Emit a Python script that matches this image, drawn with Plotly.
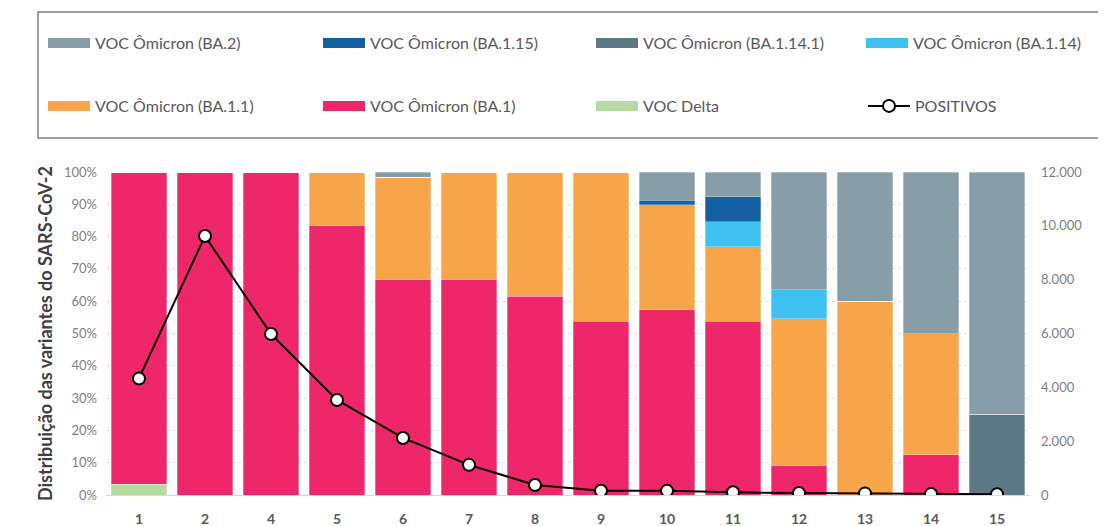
import plotly.graph_objects as go

weeks = ["1", "2", "4", "5", "6", "7", "8", "9", "10", "11", "12", "13", "14", "15"]

delta =     [3.3, 0, 0, 0, 0, 0, 0, 0, 0, 0, 0, 0, 0, 0]
ba1 =       [96.7, 100, 100, 83.3, 66.7, 66.7, 61.5, 53.8, 57.4, 53.8, 9.1, 0, 12.5, 0]
ba1_1 =     [0, 0, 0, 16.7, 31.6, 33.3, 38.5, 46.2, 32.4, 23.1, 45.4, 60, 37.5, 0]
ba1_14 =    [0, 0, 0, 0, 0, 0, 0, 0, 0, 7.7, 9.1, 0, 0, 0]
ba1_14_1 =  [0, 0, 0, 0, 0, 0, 0, 0, 0, 0, 0, 0, 0, 25]
ba1_15 =    [0, 0, 0, 0, 0, 0, 0, 0, 1.5, 7.7, 0, 0, 0, 0]
ba2 =       [0, 0, 0, 0, 1.7, 0, 0, 0, 8.7, 7.7, 36.4, 40, 50, 75]
positivos = [4330, 9620, 5980, 3530, 2120, 1120, 370, 160, 160, 100, 70, 60, 40, 30]

FONT = "Lato"
OFF = 8  # page body margin
W, H = 1106 - OFF, 526 - OFF
L, T = 106 - OFF, 172 - OFF
R = W - (1030 - OFF)
B = H - (495 - OFF)
pw, ph = W - L - R, H - T - B

def px(sx):
    return (sx - OFF - L) / pw

def py(sy):
    return (H - B - (sy - OFF)) / ph

# legend slot (screen x of text start, screen y of row)
slots = {
    "VOC Ômicron (BA.2)": (96, 43), "VOC Ômicron (BA.1.15)": (371, 43),
    "VOC Ômicron (BA.1.14.1)": (644, 43), "VOC Ômicron (BA.1.14)": (914, 43),
    "VOC Ômicron (BA.1.1)": (96, 106), "VOC Ômicron (BA.1)": (371, 106),
    "VOC Delta": (644, 106), "POSITIVOS": (916, 106),
}
order = list(slots.keys())

def legend_id(name):
    return f"legend{order.index(name) + 2}"

fig = go.Figure()

series = [
    ("VOC Delta", delta, "#B5DBA2"),
    ("VOC Ômicron (BA.1)", ba1, "#EE276A"),
    ("VOC Ômicron (BA.1.1)", ba1_1, "#F8A54A"),
    ("VOC Ômicron (BA.1.14)", ba1_14, "#3EC1F0"),
    ("VOC Ômicron (BA.1.14.1)", ba1_14_1, "#5D7985"),
    ("VOC Ômicron (BA.1.15)", ba1_15, "#1560A0"),
    ("VOC Ômicron (BA.2)", ba2, "#879EA8"),
]

for name, vals, col in series:
    fig.add_trace(go.Bar(
        x=weeks, y=vals, name=name, legendgroup=name, showlegend=False,
        marker=dict(color=col, line=dict(color="rgba(255,255,255,0.6)", width=0.5)),
        hoverinfo="skip",
    ))

fig.add_trace(go.Scatter(
    x=weeks, y=positivos, name="POSITIVOS", yaxis="y2", mode="lines+markers",
    line=dict(color="black", width=2),
    marker=dict(size=12, color="white", line=dict(color="black", width=2)),
    legend=legend_id("POSITIVOS"),
))

# legend swatches (wide colour bars, as in the original legend)
for name, vals, col in series:
    fig.add_trace(go.Scatter(
        x=[None], y=[None], name=name, legendgroup=name, mode="lines",
        line=dict(color=col, width=10), legend=legend_id(name), hoverinfo="skip",
    ))

ITEMW = 42
legends = {}
for name, (tx, ty) in slots.items():
    legends[legend_id(name)] = dict(
        orientation="h", font=dict(family=FONT, size=16, color="#595959"), bgcolor="rgba(0,0,0,0)",
        itemwidth=ITEMW, xanchor="left", yanchor="middle", xref="container", yref="container",
        x=(tx - ITEMW - 11 - OFF) / W, y=1 - (ty - OFF) / H, itemclick=False, itemdoubleclick=False,
    )

fig.update_layout(
    width=W, height=H, showlegend=True,
    margin=dict(l=L, r=R, t=T, b=B, autoexpand=False),
    barmode="stack", bargap=0.16,
    plot_bgcolor="white", paper_bgcolor="white",
    separators=",.",
    font=dict(family=FONT, color="#595959"),
    xaxis=dict(
        type="category", range=[-0.5, len(weeks) - 0.5],
        tickfont=dict(family=FONT, size=14, color="#595959", weight="bold"), ticklabelstandoff=11,
        showline=True, linecolor="#D9D9D9", linewidth=1, ticks="", showgrid=False, automargin=False,
    ),
    yaxis=dict(
        range=[0, 100], dtick=10, ticksuffix="%", tickfont=dict(family=FONT, size=13, color="#7F7F7F"),
        ticklabelstandoff=8,
        showgrid=True, gridcolor="#D9D9D9", griddash="dot", gridwidth=1, zeroline=False, automargin=False,
        title=dict(text="<b>Distribuição das variantes do SARS-CoV-2</b>",
                   font=dict(family=FONT, size=18, color="#404040"), standoff=6),
    ),
    yaxis2=dict(
        range=[0, 12000], dtick=2000, overlaying="y", side="right", showgrid=False, automargin=False,
        tickformat=",d", tickfont=dict(family=FONT, size=13, color="#7F7F7F"), zeroline=False,
        ticklabelstandoff=10,
    ),
    shapes=[dict(type="rect", xref="paper", yref="paper", x0=px(38), x1=px(1100), y0=py(138), y1=py(12),
                 line=dict(color="#7F7F7F", width=1.5))],
    **legends,
)

fig.write_html("out.html")
